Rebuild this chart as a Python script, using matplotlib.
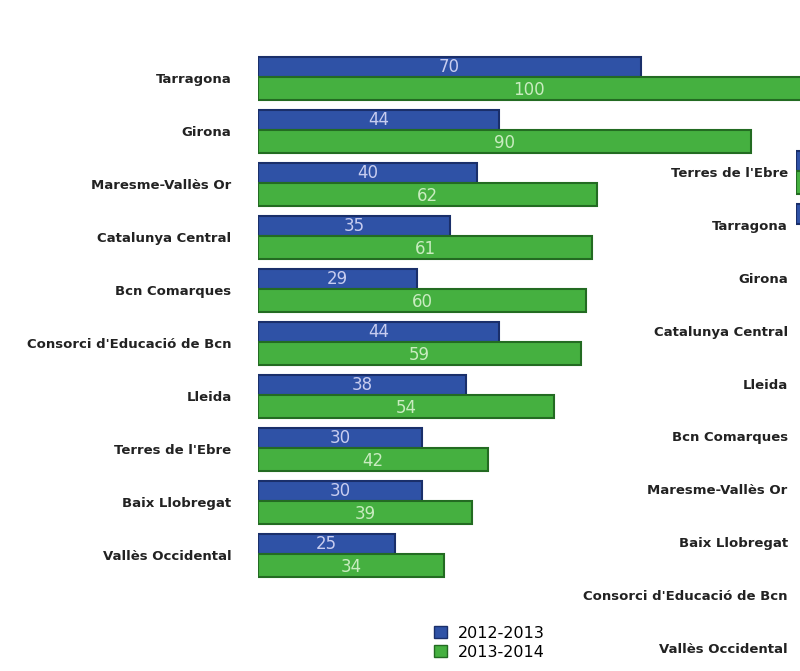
import numpy as np
import matplotlib.pyplot as plt
from matplotlib.patches import Patch

# left chart
categories = ["Tarragona", "Girona", "Maresme-Vallès Or", "Catalunya Central",
              "Bcn Comarques", "Consorci d'Educació de Bcn", "Lleida",
              "Terres de l'Ebre", "Baix Llobregat", "Vallès Occidental"]
vals_1213 = [70, 44, 40, 35, 29, 44, 38, 30, 30, 25]
vals_1314 = [100, 90, 62, 61, 60, 59, 54, 42, 39, 34]

# second chart, cut off at the right edge of the picture (only stubs visible)
right_categories = ["Terres de l'Ebre", "Tarragona", "Girona", "Catalunya Central",
                    "Lleida", "Bcn Comarques", "Maresme-Vallès Or", "Baix Llobregat",
                    "Consorci d'Educació de Bcn", "Vallès Occidental"]
right_1213 = [50, 40, 0, 0, 0, 0, 0, 0, 0, 0]
right_1314 = [50, 0, 0, 0, 0, 0, 0, 0, 0, 0]

BLUE = "#2f52a6"
BLUE_EDGE = "#1a2f6a"
GREEN = "#45b040"
GREEN_EDGE = "#236b22"

plt.rcParams["font.family"] = ["DejaVu Sans"]

W, H = 800, 671
fig = plt.figure(figsize=(W / 100, H / 100), dpi=100)

def frac_box(x0, y0, x1, y1):
    # pixel box (top-left origin) -> figure fraction rect
    return [x0 / W, 1 - y1 / H, (x1 - x0) / W, (y1 - y0) / H]

ax = fig.add_axes(frac_box(258, 51.5, 800, 581.5))
y = np.arange(len(categories))
ax.barh(y - 0.2, vals_1213, height=0.38, color=BLUE, edgecolor=BLUE_EDGE,
        linewidth=1.5, zorder=2)
ax.barh(y + 0.2, vals_1314, height=0.42, color=GREEN, edgecolor=GREEN_EDGE,
        linewidth=1.5, zorder=3)
xmax = 99
for i in range(len(categories)):
    ax.text(vals_1213[i] / 2, i - 0.2, str(vals_1213[i]), ha="center", va="center",
            color="#c8cdf0", fontsize=12, zorder=4)
    ax.text(min(vals_1314[i], xmax) / 2, i + 0.22, str(vals_1314[i]), ha="center",
            va="center", color="#c9ecc0", fontsize=12, zorder=4)
ax.set_xlim(0, xmax)
ax.set_ylim(len(categories) - 0.5, -0.5)
ax.set_yticks(y)
ax.set_yticklabels(categories, fontsize=9.5, fontweight="bold", color="#222222")
ax.tick_params(axis="y", length=0, pad=19)
ax.set_xticks([])
for s in ax.spines.values():
    s.set_visible(False)

# right chart (mostly outside the picture)
ax2 = fig.add_axes(frac_box(796, 145.5, 1040, 674.5))
y2 = np.arange(len(right_categories))
b1 = np.array(right_1213)
b2 = np.array(right_1314)
m1 = b1 > 0
m2 = b2 > 0
ax2.barh(y2[m1] - 0.2, b1[m1], height=0.38, color=BLUE, edgecolor=BLUE_EDGE, linewidth=1.5)
ax2.barh(y2[m2] + 0.2, b2[m2], height=0.42, color=GREEN, edgecolor=GREEN_EDGE, linewidth=1.5)
ax2.set_xlim(0, 100)
ax2.set_ylim(len(right_categories) - 0.5, -0.5)
ax2.set_yticks(y2)
ax2.set_yticklabels(right_categories, fontsize=9.5, fontweight="bold", color="#222222")
ax2.tick_params(axis="y", length=0, pad=6)
ax2.set_xticks([])
for s in ax2.spines.values():
    s.set_visible(False)

# legend
handles = [Patch(facecolor=BLUE, edgecolor=BLUE_EDGE, label="2012-2013"),
           Patch(facecolor=GREEN, edgecolor=GREEN_EDGE, label="2013-2014")]
fig.legend(handles=handles, loc="lower left", bbox_to_anchor=(420 / W, 1 - 674 / H),
           frameon=False, fontsize=11.5, handlelength=0.8, handleheight=0.8,
           handletextpad=0.7, labelspacing=0.25)

fig.savefig("out.png", dpi=100)
